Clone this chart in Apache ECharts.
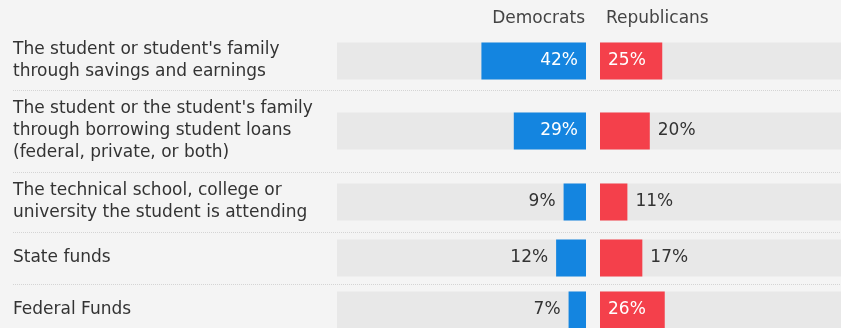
<!DOCTYPE html>
<html>
<head>
<meta charset="utf-8">
<script src="https://cdn.jsdelivr.net/npm/echarts@6/dist/echarts.min.js"></script>
<style>
html,body{margin:0;padding:0;background:#f4f4f4;overflow:hidden;width:841px;height:328px;}
#chart{width:880px;height:360px;}
</style>
</head>
<body>
<div id="chart"></div>
<script>
const categories = [
  "The student or student's family\nthrough savings and earnings",
  "The student or the student's family\nthrough borrowing student loans\n(federal, private, or both)",
  "The technical school, college or\nuniversity the student is attending",
  "State funds",
  "Federal Funds"
];
const seriesNames = ["Democrats", "Republicans"];
const democrats = [42, 29, 9, 12, 7];
const republicans = [25, 20, 11, 17, 26];

// layout (pixels)
const rowTops = [31, 90, 172, 232, 284];
const rowHeights = [60, 82, 60, 52, 52];
const leftX = 337, sideWidth = 249, rightX = 600;
const FONT = "DejaVu Sans";
const colors = { dem: "#1485e0", rep: "#f4404b", track: "#e8e8e8", text: "#333333" };
const insideMin = 22;

const chart = echarts.init(document.getElementById("chart"), null, { renderer: "canvas" });

const grid = [], xAxis = [], yAxis = [], series = [];
categories.forEach((cat, i) => {
  [0, 1].forEach(side => {
    const idx = grid.length;
    grid.push({
      left: side === 0 ? leftX : rightX,
      top: rowTops[i],
      width: sideWidth,
      height: rowHeights[i],
      containLabel: false
    });
    xAxis.push({
      type: "value", gridIndex: idx, min: 0, max: 100, inverse: side === 0,
      show: false
    });
    yAxis.push({
      type: "category", gridIndex: idx, data: [cat],
      axisLine: { show: false }, axisTick: { show: false }, splitLine: { show: false },
      axisLabel: side === 0 ? {
        show: true, align: "left", margin: leftX - 13,
        fontFamily: FONT, fontSize: 17, lineHeight: 22, color: "#333"
      } : { show: false }
    });
    const v = side === 0 ? democrats[i] : republicans[i];
    const inside = v >= insideMin;
    series.push({
      type: "bar",
      name: seriesNames[side],
      xAxisIndex: idx, yAxisIndex: idx,
      barWidth: 37,
      showBackground: true,
      backgroundStyle: { color: colors.track },
      itemStyle: { color: side === 0 ? colors.dem : colors.rep },
      silent: true,
      data: [{
        value: v,
        label: {
          show: true,
          position: side === 0 ? (inside ? "insideRight" : "left") : (inside ? "insideLeft" : "right"),
          distance: 8,
          formatter: "{c}%",
          fontFamily: FONT, fontSize: 17,
          color: inside ? "#ffffff" : colors.text
        }
      }]
    });
  });
});

const graphic = [
  { type: "text", x: 585, y: 19, style: { text: seriesNames[0], textAlign: "right", textVerticalAlign: "middle", fill: "#444", font: "17px " + FONT } },
  { type: "text", x: 606, y: 19, style: { text: seriesNames[1], textAlign: "left", textVerticalAlign: "middle", fill: "#444", font: "17px " + FONT } }
];
rowTops.slice(1).forEach(t => {
  graphic.push({
    type: "line", silent: true,
    shape: { x1: 13, y1: t + 0.5, x2: 860, y2: t + 0.5 },
    style: { stroke: "#d4d4d4", lineWidth: 1, lineDash: [1, 1] }
  });
});

chart.setOption({
  backgroundColor: "#f4f4f4",
  animation: false,
  grid, xAxis, yAxis, series, graphic
});
</script>
</body>
</html>
